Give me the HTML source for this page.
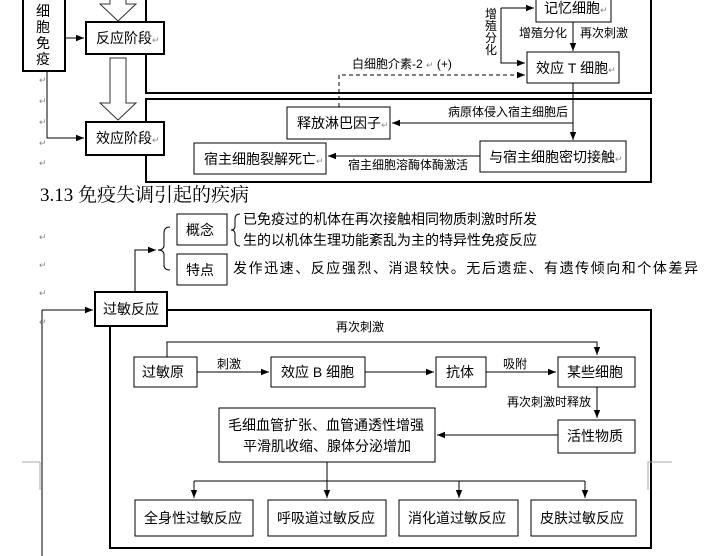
<!DOCTYPE html>
<html><head><meta charset="utf-8"><style>
html,body{margin:0;padding:0;background:#fff;}
svg{display:block;}
text{font-family:"Liberation Sans","Noto Sans CJK SC","WenQuanYi Zen Hei",sans-serif;font-size:14px;fill:#000;}
.s{font-size:12px;}
.r{font-size:9px;fill:#888;}
</style></head><body>
<svg width="712" height="556" viewBox="0 0 712 556" xmlns="http://www.w3.org/2000/svg">
<defs>
<marker id="a" viewBox="0 0 10 10" refX="10" refY="5" markerWidth="8" markerHeight="8" orient="auto"><path d="M0,1 L10,5 L0,9 z" fill="#000"/></marker>
</defs>
<g fill="none" stroke="#000">
<rect x="146" y="-5" width="505" height="98" stroke-width="2"/>
<rect x="146" y="99" width="505" height="83" stroke-width="2"/>
<rect x="110" y="310" width="541" height="238" stroke-width="2"/>
<rect x="23" y="-2" width="42" height="73" stroke-width="2" fill="#fff"/>
<rect x="86" y="22" width="78" height="32" stroke-width="2" fill="#fff"/>
<rect x="86" y="122" width="78" height="33" stroke-width="2" fill="#fff"/>
<rect x="95" y="292" width="72" height="34" stroke-width="2" fill="#fff"/>
<path d="M110,-2 L110,4 L100,4 L118,21 L136,4 L126,4 L126,-2" fill="#fff" stroke="#333"/>
<path d="M110,58 L126,58 L126,103 L136,103 L118,120 L100,103 L110,103 z" fill="#fff" stroke="#333"/>
<line x1="65" y1="38" x2="84" y2="38" marker-end="url(#a)"/>
<polyline points="47,71 47,138 84,138" marker-end="url(#a)"/>
<rect x="536" y="-2" width="75" height="24" fill="#fff"/>
<rect x="527" y="52" width="92" height="31" fill="#fff"/>
<rect x="287" y="107" width="103" height="32" fill="#fff"/>
<rect x="194" y="143" width="132" height="31" fill="#fff"/>
<rect x="480" y="141" width="146" height="31" fill="#fff"/>
<line x1="501" y1="8" x2="534" y2="8" marker-end="url(#a)"/>
<polyline points="501,8 501,63 525,63" marker-end="url(#a)"/>
<line x1="573" y1="22" x2="573" y2="51" marker-end="url(#a)"/>
<polyline points="339,107 339,75 525,75" stroke-dasharray="4,3" marker-end="url(#a)"/>
<line x1="573" y1="83" x2="573" y2="140" marker-end="url(#a)"/>
<line x1="573" y1="123" x2="392" y2="123" marker-end="url(#a)"/>
<line x1="480" y1="156" x2="328" y2="156" marker-end="url(#a)"/>
<rect x="177" y="214" width="50" height="31" fill="#fff"/>
<rect x="177" y="254" width="50" height="31" fill="#fff"/>
<polyline points="135,292 135,250 156,250" marker-end="url(#a)"/>
<path d="M170,227 Q164,227 164,233 L164,245 Q164,250 158,250 Q164,250 164,255 L164,265 Q164,270 170,270"/>
<path d="M240,214 Q235,214 235,219 L235,226 Q235,230 231,230 Q235,230 235,234 L235,241 Q235,246 240,246"/>
<line x1="42" y1="310" x2="42" y2="556"/>
<line x1="42" y1="310" x2="93" y2="310" marker-end="url(#a)"/>
<rect x="134" y="357" width="63" height="30"/>
<rect x="271" y="357" width="94" height="30"/>
<rect x="436" y="357" width="50" height="30"/>
<rect x="558" y="357" width="77" height="30"/>
<rect x="558" y="420" width="77" height="33"/>
<rect x="219" y="408" width="216" height="54"/>
<rect x="135" y="500" width="118" height="36"/>
<rect x="268" y="500" width="118" height="36"/>
<rect x="399" y="500" width="119" height="36"/>
<rect x="531" y="500" width="105" height="36"/>
<polyline points="167,357 167,342 597,342 597,355" marker-end="url(#a)"/>
<line x1="197" y1="372" x2="269" y2="372" marker-end="url(#a)"/>
<line x1="365" y1="372" x2="434" y2="372" marker-end="url(#a)"/>
<line x1="486" y1="372" x2="556" y2="372" marker-end="url(#a)"/>
<line x1="597" y1="387" x2="597" y2="418" marker-end="url(#a)"/>
<line x1="558" y1="435" x2="437" y2="435" marker-end="url(#a)"/>
<line x1="327" y1="462" x2="327" y2="498" marker-end="url(#a)"/>
<line x1="194" y1="481" x2="585" y2="481"/>
<line x1="194" y1="481" x2="194" y2="498" marker-end="url(#a)"/>
<line x1="459" y1="481" x2="459" y2="498" marker-end="url(#a)"/>
<line x1="585" y1="481" x2="585" y2="498" marker-end="url(#a)"/>
</g>
<g stroke="#aaa" fill="none"><polyline points="672,462 648,462 648,490"/><polyline points="22,462 40,462"/><line x1="40" y1="462" x2="40" y2="490"/></g>
<text x="36" y="16">细</text><text x="36" y="32">胞</text><text x="36" y="48">免</text><text x="36" y="64">疫</text>
<text x="96" y="43">反应阶段<tspan class="r">↵</tspan></text>
<text x="96" y="143">效应阶段<tspan class="r">↵</tspan></text>
<text x="544" y="13">记忆细胞<tspan class="r">↵</tspan></text>
<text x="536" y="73">效应 T 细胞<tspan class="r">↵</tspan></text>
<text class="s" x="485" y="18">增</text><text class="s" x="485" y="30">殖</text><text class="s" x="485" y="42">分</text><text class="s" x="485" y="54">化</text>
<text class="s" x="519" y="37">增殖分化</text><text class="s" x="580" y="37">再次刺激</text>
<text class="s" x="352" y="68">白细胞介素-2 <tspan class="r">↵</tspan> (+)</text>
<text x="297" y="128">释放淋巴因子<tspan class="r">↵</tspan></text>
<text x="204" y="164">宿主细胞裂解死亡<tspan class="r">↵</tspan></text>
<text x="489" y="162">与宿主细胞密切接触<tspan class="r">↵</tspan></text>
<text class="s" x="448" y="116">病原体侵入宿主细胞后</text>
<text class="s" x="348" y="169">宿主细胞溶酶体酶激活</text>
<text class="r" x="39" y="83">↵</text><text class="r" x="39" y="104">↵</text><text class="r" x="39" y="125">↵</text><text class="r" x="39" y="146">↵</text><text class="r" x="39" y="166">↵</text>
<text class="r" x="39" y="240">↵</text><text class="r" x="39" y="268">↵</text><text class="r" x="39" y="296">↵</text><text class="r" x="39" y="325">↵</text>
<text x="40" y="201" style="font-size:19px;font-family:'Liberation Serif','Noto Serif CJK SC',serif">3.13 免疫失调引起的疾病</text>
<text x="186" y="235">概念</text><text x="186" y="275">特点</text>
<text x="243" y="224" textLength="294">已免疫过的机体在再次接触相同物质刺激时所发</text>
<text x="243" y="245" textLength="294">生的以机体生理功能紊乱为主的特异性免疫反应</text>
<text x="233" y="273" textLength="465">发作迅速、反应强烈、消退较快。无后遗症、有遗传倾向和个体差异</text>
<text x="103" y="314">过敏反应</text>
<text class="s" x="336" y="331">再次刺激</text>
<text x="142" y="377">过敏原</text>
<text class="s" x="217" y="368">刺激</text>
<text x="281" y="377">效应 B 细胞</text>
<text x="446" y="377">抗体</text>
<text class="s" x="503" y="368">吸附</text>
<text x="567" y="377">某些细胞</text>
<text class="s" x="507" y="406">再次刺激时释放</text>
<text x="567" y="441">活性物质</text>
<text x="228" y="430" textLength="196">毛细血管扩张、血管通透性增强</text>
<text x="243" y="451" textLength="168">平滑肌收缩、腺体分泌增加</text>
<text x="144" y="523">全身性过敏反应</text>
<text x="277" y="523">呼吸道过敏反应</text>
<text x="408" y="523">消化道过敏反应</text>
<text x="540" y="523">皮肤过敏反应</text>
</svg>
</body></html>
